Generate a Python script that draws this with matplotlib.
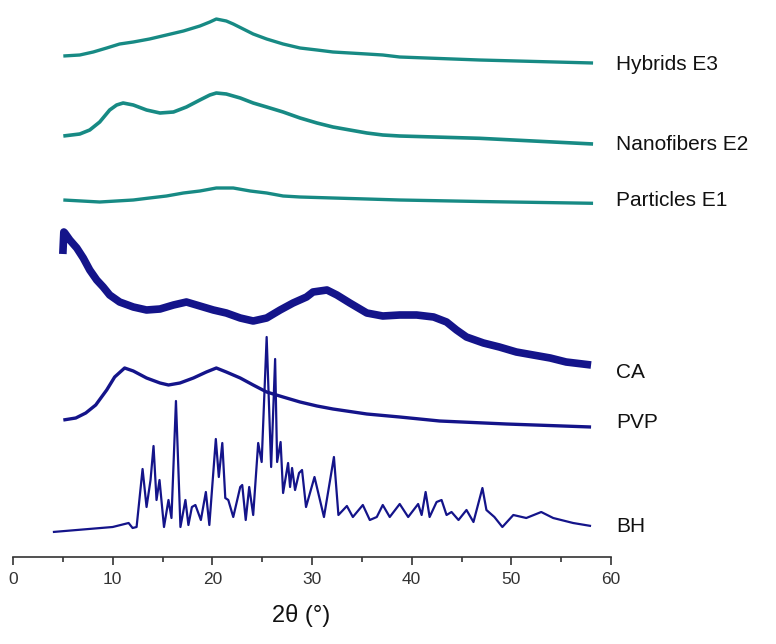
import matplotlib
matplotlib.use('Agg')
import matplotlib.pyplot as plt
import numpy as np

# ── Data (2θ in degrees, intensity in a.u. above each trace's own baseline) ──
bh_2theta = [4.0, 10.0, 11.6, 12.0, 12.4, 13.0, 13.4, 13.8, 14.1, 14.4, 14.7, 15.15,
             15.6, 15.9, 16.35, 16.8, 17.3, 17.6, 17.95, 18.3, 18.85, 19.35, 19.7,
             20.35, 20.65, 21.0, 21.3, 21.6, 22.1, 22.8, 23.0, 23.35, 23.7, 24.1,
             24.6, 24.95, 25.45, 25.9, 26.3, 26.5, 26.85, 27.1, 27.6, 27.8, 28.0,
             28.3, 28.7, 29.0, 29.4, 30.25, 31.2, 32.2, 32.65, 33.5, 34.1, 35.1,
             35.8, 36.5, 37.1, 37.8, 38.8, 39.65, 40.65, 41.0, 41.4, 41.8, 42.5,
             43.0, 43.5, 44.0, 44.7, 45.5, 46.2, 47.1, 47.5, 48.3, 49.1, 50.2,
             51.5, 53.0, 54.2, 56.2, 58.0]
bh_int = [5, 10, 14, 9, 10, 68, 30, 57, 91, 37, 57, 10,
          37, 19, 136, 10, 37, 12, 30, 32, 17, 45, 12,
          98, 60, 94, 39, 37, 20, 50, 52, 17, 50, 22,
          94, 75, 200, 70, 178, 75, 95, 44, 74, 50, 69,
          47, 64, 67, 30, 60, 20, 80, 22, 31, 20, 32,
          17, 20, 32, 20, 33, 20, 33, 22, 45, 20, 35,
          37, 22, 25, 17, 27, 15, 49, 27, 20, 10, 22,
          19, 25, 19, 14, 11]

pvp_2theta = [5.05, 6.3, 7.3, 8.3, 9.4, 10.2, 11.2, 12.07, 13.4, 14.75, 15.6, 16.75,
              18.1, 19.4, 20.4, 21.4, 22.8, 24.1, 25.45, 27.1, 28.8, 30.5, 32.1,
              35.5, 38.8, 42.8, 49.5, 58.0]
pvp_int = [12, 14, 19, 27, 42, 55, 64, 61, 54, 49, 47, 49,
           54, 60, 64, 60, 54, 47, 40, 35, 30, 26, 23,
           18, 15, 11, 8, 5]

ca_2theta = [5.0, 5.1, 5.2, 5.7, 6.4, 7.05, 7.7, 8.4, 9.05, 9.7, 10.7, 12.07, 13.4,
             14.75, 16.1, 17.4, 18.75, 20.1, 21.4, 22.8, 24.1, 25.45, 26.8, 28.1,
             29.45, 30.1, 31.5, 32.5, 33.8, 35.5, 37.1, 38.8, 40.5, 42.2, 43.5,
             44.5, 45.5, 47.2, 48.8, 50.5, 52.2, 53.9, 55.5, 58.0]
ca_int = [118, 140, 139, 132, 124, 114, 102, 92, 85, 77, 70, 65, 62,
          63, 67, 70, 66, 62, 59, 54, 51, 54, 62, 69,
          75, 80, 82, 77, 69, 59, 56, 57, 57, 55, 50,
          42, 35, 29, 25, 20, 17, 14, 10, 7]

e1_2theta = [5.05, 8.7, 12.07, 13.7, 15.4, 17.1, 18.75, 20.4, 22.1, 23.8, 25.45,
             27.1, 28.8, 32.1, 35.5, 38.8, 46.8, 58.2]
e1_int = [7, 5, 7, 9, 11, 14, 16, 19, 19, 16, 14, 11, 10, 9, 8, 7, 5.5, 3.7]

e2_2theta = [5.05, 6.7, 7.7, 8.7, 9.7, 10.4, 11.05, 12.07, 13.4, 14.75, 16.1, 17.4,
             18.75, 19.75, 20.4, 21.4, 22.8, 24.1, 25.45, 27.1, 28.8, 30.5, 32.1,
             33.8, 35.5, 37.1, 38.8, 46.8, 58.2]
e2_int = [11, 13, 17, 25, 37, 42, 44, 42, 37, 34, 35, 40,
          47, 52, 54, 53, 49, 44, 40, 35, 29, 24, 20,
          17, 14, 12, 11, 8.7, 3]

e3_2theta = [5.05, 6.7, 8.05, 9.4, 10.7, 12.07, 13.7, 15.4, 17.1, 18.75, 19.75,
             20.4, 21.4, 22.1, 23.1, 24.1, 25.45, 27.1, 28.8, 30.5, 32.1, 33.8,
             35.5, 37.1, 38.8, 46.8, 58.2]
e3_int = [11, 12, 15, 19, 23, 25, 28, 32, 36, 41, 45,
          48, 46, 43, 38, 33, 28, 23, 19, 17, 15, 14,
          13, 12, 10, 7, 4]

labels = ['BH', 'PVP', 'CA', 'Particles E1', 'Nanofibers E2', 'Hybrids E3']
offsets = [20, 125, 185, 350, 410, 490]
label_y = [31, 134, 185, 357, 413, 492]

TEAL = '#178a84'
NAVY = '#14148a'

traces = [
    (bh_2theta, bh_int, NAVY, 1.6),
    (pvp_2theta, pvp_int, NAVY, 2.4),
    (ca_2theta, ca_int, NAVY, 5.5),
    (e1_2theta, e1_int, TEAL, 2.4),
    (e2_2theta, e2_int, TEAL, 2.6),
    (e3_2theta, e3_int, TEAL, 2.4),
]

fig = plt.figure(figsize=(7.76, 6.44), dpi=100)
ax = fig.add_axes([13 / 776, 87 / 644, 598 / 776, 557 / 644])

for (tx, ty, col, lw), off in zip(traces, offsets):
    ax.plot(tx, np.array(ty) + off, color=col, linewidth=lw,
            solid_joinstyle='round', solid_capstyle='butt')

for lab, y in zip(labels, label_y):
    ax.text(60.5, y, lab, fontsize=15, va='center', ha='left', color='#111111',
            family='Liberation Sans', clip_on=False)

ax.set_xlim(0, 60)
ax.set_ylim(0, 557)
for s in ['top', 'right', 'left']:
    ax.spines[s].set_visible(False)
ax.spines['bottom'].set_color('#333333')
ax.spines['bottom'].set_linewidth(1.2)
ax.set_yticks([])
ax.set_xticks(np.arange(0, 61, 10))
ax.set_xticks(np.arange(5, 60, 10), minor=True)
ax.tick_params(axis='x', which='major', direction='out', length=6, width=1.2,
               color='#333333', labelsize=12.5, labelcolor='#333333', pad=5)
ax.tick_params(axis='x', which='minor', direction='out', length=3.5, width=1.2,
               color='#333333')
for t in ax.get_xticklabels():
    t.set_family('Liberation Sans')

ax.set_xlabel('2θ (°)', fontsize=17, family='Liberation Sans', color='#111111')
ax.xaxis.set_label_coords((301 - 13) / 598, -0.085)

fig.savefig('out.png', dpi=100)
